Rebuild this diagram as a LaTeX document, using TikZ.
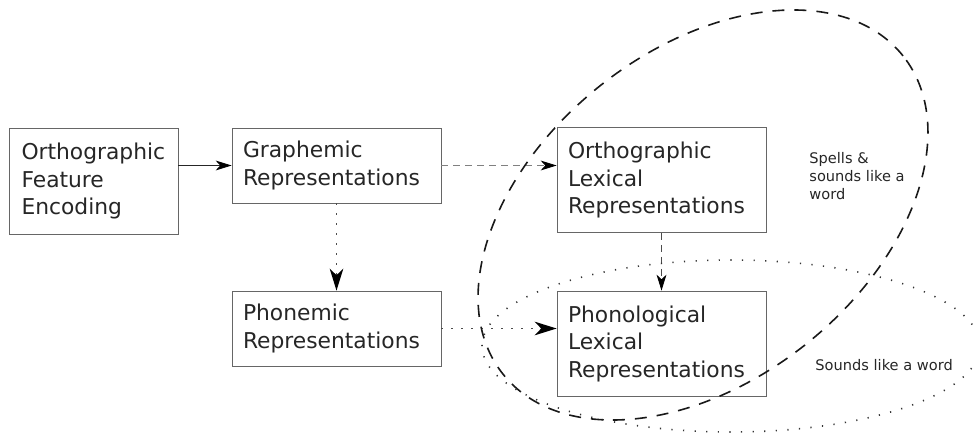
\documentclass[tikz,border=0pt]{standalone}
\usepackage{fontspec}
\setmainfont{DejaVu Sans}
\usetikzlibrary{arrows.meta}

\begin{document}
\begin{tikzpicture}
		[
			x=0.5pt, y=-0.5pt,
			every node/.style={text=black!85},
			b1/.style={draw=black!60, align=left, text width=72pt, inner xsep=6.25pt, inner ysep=0pt, minimum height=53pt, font=\fontsize{10.9}{13.75}\selectfont},
			b2/.style={draw=black!60, align=left, text width=93.5pt, inner xsep=5.5pt, inner ysep=0pt, minimum height=37.5pt, font=\fontsize{10.9}{13.75}\selectfont},
			b3/.style={b2, minimum height=52.5pt},
			note/.style={align=left, inner sep=0pt, font=\fontsize{7.3}{9}\selectfont},
			tip/.style={-{Stealth[length=#1, width=0.62*#1, inset=0.3*#1, color=black]}},
			spells/.style={draw=black!90, line width=0.8pt, dash pattern=on 6pt off 5pt},
			sounds/.style={draw=black!80, line width=0.8pt, dash pattern=on 0.6pt off 5.2pt},
		]
		\useasboundingbox (0,0) rectangle (974,433);

		% Boxes
		\foreach \style/\name/\x/\y/\text in
		{
			b1/ofe/93.5/181/{Orthographic\\Feature\\Encoding},
			b2/graph/336.5/165.5/{Graphemic\\Representations},
			b3/ortlex/661.5/180/{Orthographic\\Lexical\\Representations},
			b2/phon/336.5/328.5/{Phonemic\\Representations},
			b3/phonlex/661.5/343.5/{Phonological\\Lexical\\Representations}
		}
			\node[\style] (\name) at (\x,\y) {\text};

		% Links
		\draw[black!85, tip=8pt] (ofe.east |- graph.west) -- (graph.west);
		\draw[black!50, dash pattern=on 3.5pt off 2.5pt, tip=8pt] (graph.east) -- (graph.east -| ortlex.west);
		\draw[black!70, line width=0.7pt, dash pattern=on 0.7pt off 4.3pt, tip=11pt] (graph.south) -- (phon.north);
		\draw[black!70, line width=0.7pt, dash pattern=on 0.7pt off 4.3pt, tip=11pt] (phon.east) -- (phon.east -| phonlex.west);
		\draw[black!70, dash pattern=on 3.5pt off 2.5pt, tip=8pt] (ortlex.south) -- (phonlex.north);

		% Regions
		\draw[spells, rotate around={38.5:(703,215)}] (703,215) ellipse [x radius=127.8pt, y radius=82.6pt];
		\draw[sounds] (731,346) ellipse [x radius=124.5pt, y radius=43pt];

		\node[note, anchor=west] (spells) at (809,176) {Spells \&\\sounds like a\\word};
		\node[note, anchor=west] (sounds) at (815,365) {Sounds like a word};

		\end{tikzpicture}
\end{document}
